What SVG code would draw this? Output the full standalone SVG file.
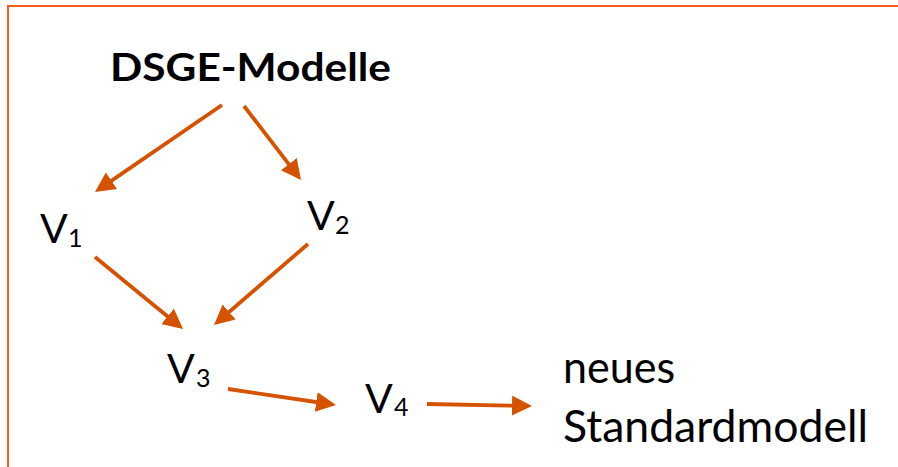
<svg xmlns="http://www.w3.org/2000/svg" width="898" height="467" viewBox="0 0 898 467">
  <defs>
    <style>
      .lbl { font-family: Lato, "Open Sans", "Liberation Sans", sans-serif; fill: #000; }
      .v { font-size: 41px; }
      .sub { font-size: 25px; }
      .conn { stroke: #D55300; stroke-width: 3.8; fill: none; marker-end: url(#ah); }
    </style>
    <marker id="ah" viewBox="0 0 20 20" refX="10" refY="10" markerWidth="20" markerHeight="20" markerUnits="userSpaceOnUse" orient="auto">
      <path d="M0,0 L20,10 L0,20 z" fill="#D55300"/>
    </marker>
  </defs>
  <rect x="0" y="0" width="898" height="467" fill="#ffffff"/>
  <rect x="8" y="6" width="920" height="500" fill="none" stroke="#FA5A1E" stroke-width="2"/>

  <g id="connectors">
    <line class="conn" x1="222" y1="105" x2="103.25" y2="186.35"/>
    <line class="conn" x1="244" y1="106" x2="294.9" y2="172.1"/>
    <line class="conn" x1="95" y1="257" x2="175.3" y2="322.7"/>
    <line class="conn" x1="308" y1="244" x2="221.6" y2="318.5"/>
    <line class="conn" x1="228" y1="389" x2="326.1" y2="403.5"/>
    <line class="conn" x1="427" y1="404" x2="522" y2="405.8"/>
  </g>

  <g id="dsge">
    <text class="lbl" x="110" y="81" font-size="39" font-weight="bold" textLength="281" lengthAdjust="spacingAndGlyphs">DSGE-Modelle</text>
  </g>
  <g id="v1">
    <text class="lbl"><tspan class="v" x="40" y="243">V</tspan><tspan class="sub" x="68" y="247">1</tspan></text>
  </g>
  <g id="v2">
    <text class="lbl"><tspan class="v" x="307" y="230">V</tspan><tspan class="sub" x="335" y="233.5">2</tspan></text>
  </g>
  <g id="v3">
    <text class="lbl"><tspan class="v" x="167" y="383">V</tspan><tspan class="sub" x="196" y="387">3</tspan></text>
  </g>
  <g id="v4">
    <text class="lbl"><tspan class="v" x="365" y="413">V</tspan><tspan class="sub" x="394" y="416">4</tspan></text>
  </g>
  <g id="standardmodell">
    <text class="lbl" font-size="45"><tspan x="563" y="383" textLength="112" lengthAdjust="spacingAndGlyphs">neues</tspan><tspan x="563" y="442" textLength="305" lengthAdjust="spacingAndGlyphs">Standardmodell</tspan></text>
  </g>
</svg>
